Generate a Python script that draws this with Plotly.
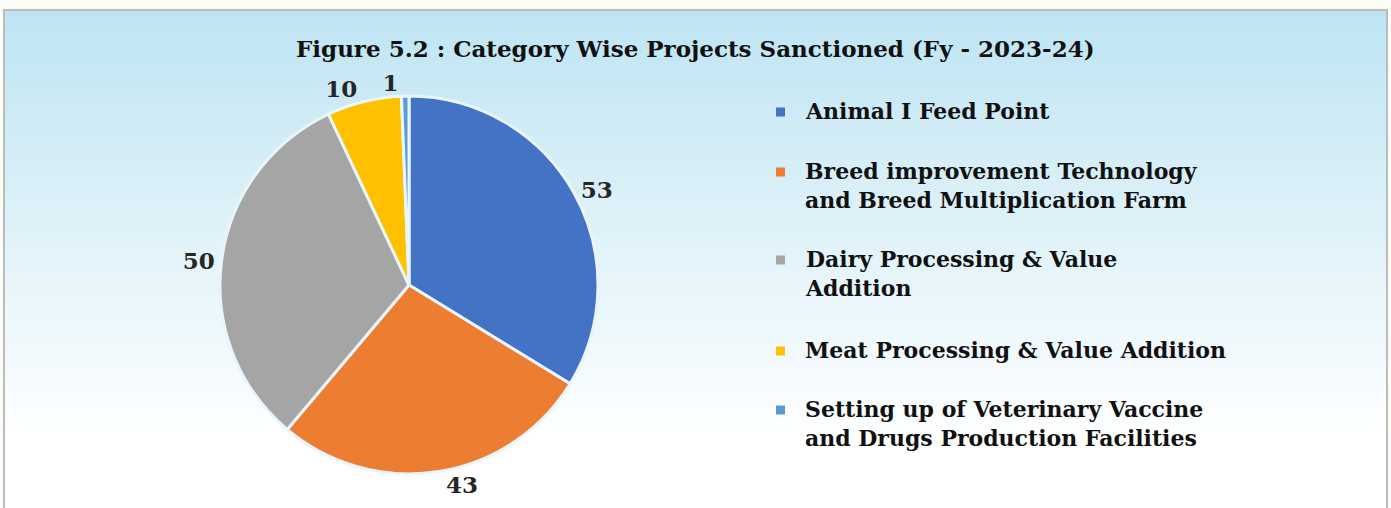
import plotly.graph_objects as go

# Category-wise projects sanctioned, FY 2023-24
categories = [
    "Animal I Feed Point",
    "Breed improvement Technology<br>and Breed Multiplication Farm",
    "Dairy Processing & Value<br>Addition",
    "Meat Processing & Value Addition",
    "Setting up of Veterinary Vaccine<br>and Drugs Production Facilities",
]
projects = [53, 43, 50, 10, 1]
colors = ["#4472C4", "#ED7D31", "#A5A5A5", "#FFC000", "#5B9BD5"]

W, H = 1391, 508
FONT = "DejaVu Serif"
LABEL_FONT = dict(family=FONT, size=23, color="#262626", weight="bold")


def px_x(x):
    return x / W


def px_y(y):
    return 1 - y / H


fig = go.Figure()

# Pie placed on the left half
cx, cy, r = 409, 285, 189
domain = dict(x=[px_x(cx - r), px_x(cx + r)], y=[px_y(cy + r), px_y(cy - r)])
names = [c.replace("<br>", " ") for c in categories]
last = len(projects) - 1

fig.add_trace(go.Pie(
    labels=names,
    values=projects,
    sort=False,
    direction="clockwise",
    rotation=0,
    marker=dict(colors=colors, line=dict(color="#e8f5fb", width=3)),
    texttemplate=["%{value}" if i != last else "" for i in range(len(projects))],
    textposition="outside",
    outsidetextfont=LABEL_FONT,
    domain=domain,
    showlegend=False,
    hoverinfo="label+value",
))

# Value label of the thinnest slice, drawn by an overlaid transparent pie
# so it keeps its own spot beside the neighbouring label
fig.add_trace(go.Pie(
    labels=names,
    values=projects,
    sort=False,
    direction="clockwise",
    rotation=0,
    marker=dict(colors=["rgba(0,0,0,0)"] * len(projects), line=dict(width=0)),
    texttemplate=["%{value}" if i == last else "" for i in range(len(projects))],
    textposition="outside",
    outsidetextfont=LABEL_FONT,
    domain=domain,
    showlegend=False,
    hoverinfo="skip",
))

shapes = []

# Light-blue to white vertical gradient inside the frame
top, bottom = 10, H
fade_end = 440
c0 = (190, 228, 243)
n_bands = 90
band_h = (bottom - top) / n_bands
for i in range(n_bands):
    y0 = top + i * band_h
    y1 = y0 + band_h + 0.6
    t = min(1.0, (y0 + band_h / 2 - top) / (fade_end - top))
    col = tuple(round(c + (255 - c) * t) for c in c0)
    shapes.append(dict(
        type="rect", xref="paper", yref="paper", layer="below",
        x0=px_x(4), x1=px_x(1387), y0=px_y(y1), y1=px_y(y0),
        fillcolor="rgb(%d,%d,%d)" % col, line=dict(width=0),
    ))

# Frame
shapes.append(dict(
    type="rect", xref="paper", yref="paper", layer="below",
    x0=px_x(4), x1=px_x(1387), y0=px_y(H + 5), y1=px_y(10),
    fillcolor="rgba(0,0,0,0)", line=dict(color="#bcbcbc", width=2),
))

annotations = [dict(
    text="Figure 5.2 : Category Wise Projects Sanctioned (Fy - 2023-24)",
    x=px_x(696), y=px_y(48), xref="paper", yref="paper",
    xanchor="center", yanchor="middle", showarrow=False,
    font=dict(family=FONT, size=23, color="#111111", weight="bold"),
)]

# Legend: colour squares with bold labels
legend_top = [112, 172, 260, 351, 410]
for lab, col, yy in zip(categories, colors, legend_top):
    shapes.append(dict(
        type="rect", xref="paper", yref="paper",
        x0=px_x(776), x1=px_x(785), y0=px_y(yy + 4.5), y1=px_y(yy - 4.5),
        fillcolor=col, line=dict(width=0),
    ))
    annotations.append(dict(
        text=lab, x=px_x(803), y=px_y(yy - 16), xref="paper", yref="paper",
        xanchor="left", yanchor="top", align="left", showarrow=False,
        font=dict(family=FONT, size=22, color="#111111", weight="bold"),
    ))

fig.update_layout(
    width=W, height=H,
    margin=dict(l=0, r=0, t=0, b=0),
    paper_bgcolor="#fdfdf8",
    plot_bgcolor="rgba(0,0,0,0)",
    shapes=shapes,
    annotations=annotations,
)

fig.write_html("out.html")
